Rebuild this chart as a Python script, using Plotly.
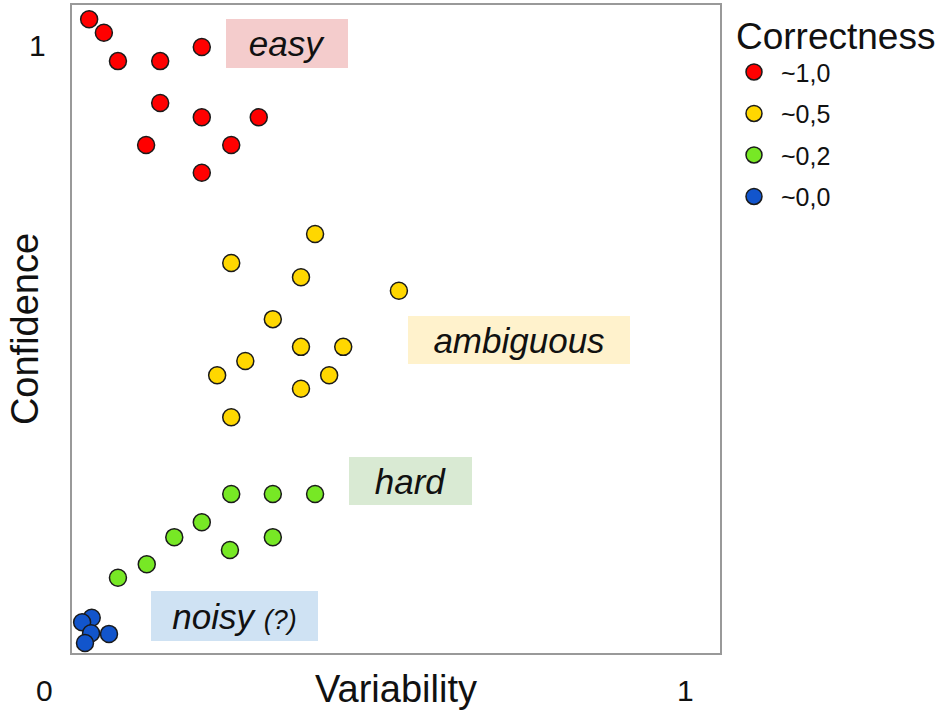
import plotly.graph_objects as go

# ---- data (variability, confidence), normalised 0..1 ----
groups = ["~1,0", "~0,5", "~0,2", "~0,0"]
colors = ["#ff0000", "#ffd700", "#77e825", "#1255cc"]

red_x = [0.069, 0.092, 0.114, 0.180, 0.245, 0.180, 0.245, 0.334, 0.158, 0.291, 0.245]
red_y = [1.040, 1.019, 0.975, 0.975, 0.997, 0.910, 0.888, 0.888, 0.845, 0.845, 0.802]

yel_x = [0.422, 0.291, 0.400, 0.553, 0.356, 0.400, 0.466, 0.313, 0.269, 0.444, 0.400, 0.291]
yel_y = [0.707, 0.662, 0.640, 0.619, 0.575, 0.532, 0.532, 0.510, 0.488, 0.488, 0.467, 0.423]

grn_x = [0.291, 0.356, 0.422, 0.245, 0.202, 0.289, 0.356, 0.159, 0.114]
grn_y = [0.304, 0.304, 0.304, 0.260, 0.237, 0.217, 0.237, 0.195, 0.174]

blu_x = [0.073, 0.058, 0.072, 0.100, 0.0625]
blu_y = [0.112, 0.105, 0.088, 0.087, 0.073]

series_x = [red_x, yel_x, grn_x, blu_x]
series_y = [red_y, yel_y, grn_y, blu_y]

# region labels
region_text = ["easy", "ambiguous", "hard", "noisy <span style='font-size:27px'>(?)</span>"]
region_x = [0.378, 0.741, 0.571, 0.296]
region_y = [1.002, 0.543, 0.324, 0.115]
region_w = [122, 222, 123, 167]
region_h = [49, 48, 48, 50]
region_bg = ["#f4cccc", "#fff2cc", "#d9ead3", "#cfe2f3"]

# corner tick labels (paper coordinates)
corner_text = ["0", "1", "1"]
corner_x = [-0.0417, 0.946, -0.0525]
corner_y = [-0.0571, -0.0571, 0.938]

FONT = "Liberation Sans, Arial, sans-serif"

fig = go.Figure()
for name, c, xs, ys in zip(groups, colors, series_x, series_y):
    fig.add_trace(go.Scatter(
        x=xs, y=ys, mode="markers", name="\u00a0" + name, legendgroup=name,
        marker=dict(size=17, color=c, line=dict(color="#1a1a1a", width=1.5)),
        hoverinfo="skip",
    ))

for t, x, y, w, h, bg in zip(region_text, region_x, region_y, region_w, region_h, region_bg):
    fig.add_annotation(
        x=x, y=y, xref="x", yref="y", text="<i>" + t + "</i>", showarrow=False,
        width=w, height=h, bgcolor=bg, borderpad=0, borderwidth=0,
        font=dict(size=35, color="#111111", family=FONT), align="center", valign="middle",
    )

for t, x, y in zip(corner_text, corner_x, corner_y):
    fig.add_annotation(x=x, y=y, xref="paper", yref="paper", text=t, showarrow=False,
                       xanchor="center", yanchor="middle",
                       font=dict(size=30, color="#111111", family=FONT))

fig.update_layout(
    width=942, height=710,
    margin=dict(l=72, r=222, t=5, b=57, autoexpand=False),
    paper_bgcolor="white", plot_bgcolor="white",
    font=dict(family=FONT, color="#111111"),
    showlegend=True,
    legend=dict(
        x=1.0216, xanchor="left", y=1.006, yanchor="top",
        title=dict(text="Correctness", font=dict(size=37, family=FONT)),
        font=dict(size=25, family=FONT),
        tracegroupgap=6, itemsizing="trace",
    ),
    xaxis=dict(range=[0.0422, 1.0547], showgrid=False, zeroline=False,
               showticklabels=False, ticks="", showline=True, mirror=True,
               linecolor="#999999", linewidth=2,
               title=dict(text="Variability", font=dict(size=38, family=FONT), standoff=22),
               automargin=False),
    yaxis=dict(range=[0.0574, 1.062], showgrid=False, zeroline=False,
               showticklabels=False, ticks="", showline=True, mirror=True,
               linecolor="#999999", linewidth=2,
               title=dict(text="Confidence", font=dict(size=38, family=FONT), standoff=20),
               automargin=False),
)

fig.write_html("out.html", config={"displayModeBar": False})

# remove default page margin so the figure sits at the window's top-left corner
with open("out.html", "r", encoding="utf-8") as f:
    html = f.read()
html = html.replace("<body>", "<body style=\"margin:0;padding:0\">", 1)
with open("out.html", "w", encoding="utf-8") as f:
    f.write(html)
